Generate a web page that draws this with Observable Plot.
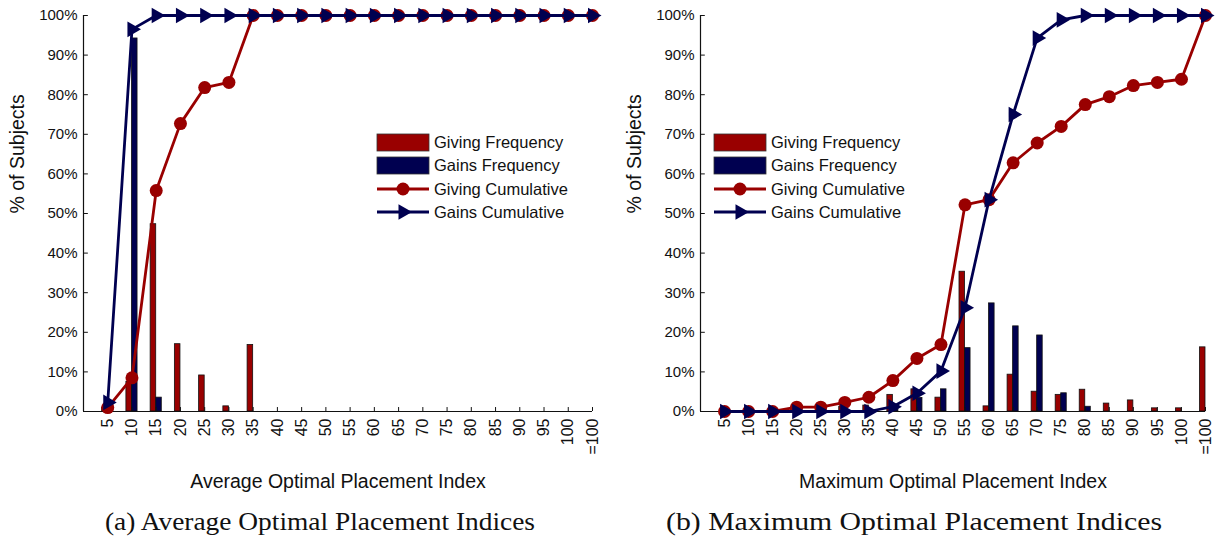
<!DOCTYPE html>
<html>
<head>
<meta charset="utf-8">
<script src="https://cdn.jsdelivr.net/npm/d3@7"></script>
<script src="https://cdn.jsdelivr.net/npm/@observablehq/plot@0.6"></script>
<style>
  html, body { margin: 0; padding: 0; background: #fff; }
  body { width: 1225px; height: 539px; position: relative; overflow: hidden; font-family: "Liberation Sans", Arial, sans-serif; }
  .panel { position: absolute; top: 0; }
  .overlay { position: absolute; top: 0; left: 0; }
</style>
</head>
<body>
<div id="panelA" class="panel" style="left:0px"></div>
<div id="panelB" class="panel" style="left:612px"></div>
<svg id="overlay" class="overlay" width="1225" height="539"></svg>
<script>
// ---- data ----
const categories = ["5","10","15","20","25","30","35","40","45","50","55","60","65","70","75","80","85","90","95","100","=100"];
const yTicks = [0,10,20,30,40,50,60,70,80,90,100];

// (a) Average optimal placement index
const avgGivingFreq = [1.0, 7.5, 47.3, 17.0, 9.1, 1.3, 16.8, 0, 0, 0, 0, 0, 0, 0, 0, 0, 0, 0, 0, 0, 0];
const avgGainsFreq  = [2.3, 94.2, 3.5, 0, 0, 0, 0, 0, 0, 0, 0, 0, 0, 0, 0, 0, 0, 0, 0, 0, 0];
const avgGivingCum  = [1.0, 8.5, 55.8, 72.7, 81.8, 83.1, 100, 100, 100, 100, 100, 100, 100, 100, 100, 100, 100, 100, 100, 100, 100];
const avgGainsCum   = [2.3, 96.5, 100, 100, 100, 100, 100, 100, 100, 100, 100, 100, 100, 100, 100, 100, 100, 100, 100, 100, 100];

// (b) Maximum optimal placement index
const maxGivingFreq = [0, 0, 0, 1.1, 0, 1.2, 1.5, 4.2, 5.6, 3.5, 35.3, 1.3, 9.3, 5.0, 4.2, 5.5, 2.0, 2.8, 0.8, 0.8, 16.2];
const maxGainsFreq  = [0, 0, 0, 0, 0, 0, 0, 1.2, 3.4, 5.6, 16.0, 27.3, 21.5, 19.2, 4.6, 1.2, 0, 0, 0, 0, 0];
const maxGivingCum  = [0, 0, 0, 1.1, 1.1, 2.3, 3.6, 7.8, 13.4, 16.9, 52.2, 53.5, 62.8, 67.8, 72.0, 77.5, 79.5, 82.3, 83.1, 83.9, 100];
const maxGainsCum   = [0, 0, 0, 0, 0, 0, 0, 1.2, 4.6, 10.2, 26.2, 53.5, 75.0, 94.3, 98.9, 100, 100, 100, 100, 100, 100];

const seriesNames = ["Giving Frequency", "Gains Frequency", "Giving Cumulative", "Gains Cumulative"];
const captions = ["(a) Average Optimal Placement Indices", "(b) Maximum Optimal Placement Indices"];

// ---- styles ----
const RED = "#990000";
const NAVY = "#000050";
const BAR_W = 0.23;       // bar width in category units
const LINE_W = 2.8;

function panel(el, {givingFreq, gainsFreq, givingCum, gainsCum, xLabel, width, marginLeft, marginRight}) {
  const idx = categories.map((c, i) => i + 1);
  const givingBars = categories.map((c, i) => ({i: i + 1, v: givingFreq[i]})).filter(d => d.v > 0);
  const gainsBars = categories.map((c, i) => ({i: i + 1, v: gainsFreq[i]})).filter(d => d.v > 0);
  const givingPts = categories.map((c, i) => ({i: i + 1, v: givingCum[i]}));
  const gainsPts = categories.map((c, i) => ({i: i + 1, v: gainsCum[i]}));
  const chart = Plot.plot({
    width, height: 490,
    marginTop: 15, marginBottom: 79, marginLeft, marginRight,
    style: {fontFamily: "'Liberation Sans', Arial, sans-serif", fontSize: "15px", color: "#111", background: "transparent", overflow: "visible"},
    x: {domain: [0, categories.length], label: null},
    y: {domain: [0, 100], label: null},
    marks: [
      Plot.axisX({ticks: idx, tickFormat: i => categories[i - 1], tickRotate: -90, tickSize: 0, tickPadding: 7, fontSize: 16, label: null}),
      Plot.axisY({ticks: yTicks, tickFormat: d => d + "%", tickSize: 0, tickPadding: 6, fontSize: 15, label: null}),
      Plot.rectY(givingBars, {x1: d => d.i - BAR_W, x2: d => d.i, y1: 0, y2: "v", fill: RED, stroke: "#111", strokeWidth: 0.8}),
      Plot.rectY(gainsBars, {x1: d => d.i, x2: d => d.i + BAR_W, y1: 0, y2: "v", fill: NAVY, stroke: "#111", strokeWidth: 0.8}),
      Plot.ruleY([0], {stroke: "#111", strokeWidth: 1.2}),
      Plot.ruleX([0], {y1: 0, y2: 100, stroke: "#111", strokeWidth: 1.2}),
      Plot.ruleX(idx, {y1: 0, y2: 1, stroke: "#111"}),
      Plot.ruleY(yTicks, {x1: 0, x2: 0.2, stroke: "#111"}),
      Plot.line(givingPts, {x: "i", y: "v", stroke: RED, strokeWidth: LINE_W}),
      Plot.dot(givingPts, {x: "i", y: "v", fill: RED, r: 6.5}),
      Plot.line(gainsPts, {x: "i", y: "v", stroke: NAVY, strokeWidth: LINE_W}),
      Plot.dot(gainsPts, {x: "i", y: "v", fill: NAVY, symbol: "triangle", r: 5.8, rotate: 90}),
      Plot.text(["% of Subjects"], {text: d => d, frameAnchor: "left", dx: -66, rotate: -90, fontSize: 19.5, fill: "#111"}),
      Plot.text([xLabel], {text: d => d, frameAnchor: "bottom", dy: 76, fontSize: 19.5, fill: "#111"})
    ]
  });
  el.appendChild(chart);
}

panel(document.getElementById("panelA"), {
  givingFreq: avgGivingFreq, gainsFreq: avgGainsFreq, givingCum: avgGivingCum, gainsCum: avgGainsCum,
  xLabel: "Average Optimal Placement Index", width: 612, marginLeft: 83, marginRight: 20
});
panel(document.getElementById("panelB"), {
  givingFreq: maxGivingFreq, gainsFreq: maxGainsFreq, givingCum: maxGivingCum, gainsCum: maxGainsCum,
  xLabel: "Maximum Optimal Placement Index", width: 613, marginLeft: 88, marginRight: 20
});

// ---- legends & captions ----
const svg = d3.select("#overlay");
function legend(x0) {
  const rows = [142.5, 165.5, 189, 212];
  const g = svg.append("g").attr("transform", `translate(${x0},0)`)
    .style("font-family", "'Liberation Sans', Arial, sans-serif").style("font-size", "16.5px");
  seriesNames.forEach((name, k) => {
    const y = rows[k];
    if (k < 2) {
      g.append("rect").attr("x", 0).attr("y", y - 8.5).attr("width", 52).attr("height", 17)
        .attr("fill", k === 0 ? RED : NAVY).attr("stroke", "#333").attr("stroke-width", 0.8);
    } else {
      const col = k === 2 ? RED : NAVY;
      g.append("line").attr("x1", 0).attr("x2", 52).attr("y1", y).attr("y2", y).attr("stroke", col).attr("stroke-width", LINE_W);
      if (k === 2) g.append("circle").attr("cx", 26).attr("cy", y).attr("r", 6.5).attr("fill", col);
      else g.append("path").attr("d", d3.symbol(d3.symbolTriangle, Math.PI * 5.8 * 5.8)()).attr("transform", `translate(26,${y}) rotate(90)`).attr("fill", col);
    }
    g.append("text").attr("x", 57).attr("y", y).attr("dy", "0.35em").attr("fill", "#111").text(name);
  });
}
legend(377);
legend(714);

[[105, 430], [666, 496]].forEach(([x, len], k) => {
  svg.append("text").attr("x", x).attr("y", 530)
    .attr("textLength", len).attr("lengthAdjust", "spacingAndGlyphs")
    .style("font-family", "'Liberation Serif', 'DejaVu Serif', serif").style("font-size", "25px")
    .attr("fill", "#111").text(captions[k]);
});
</script>
</body>
</html>
